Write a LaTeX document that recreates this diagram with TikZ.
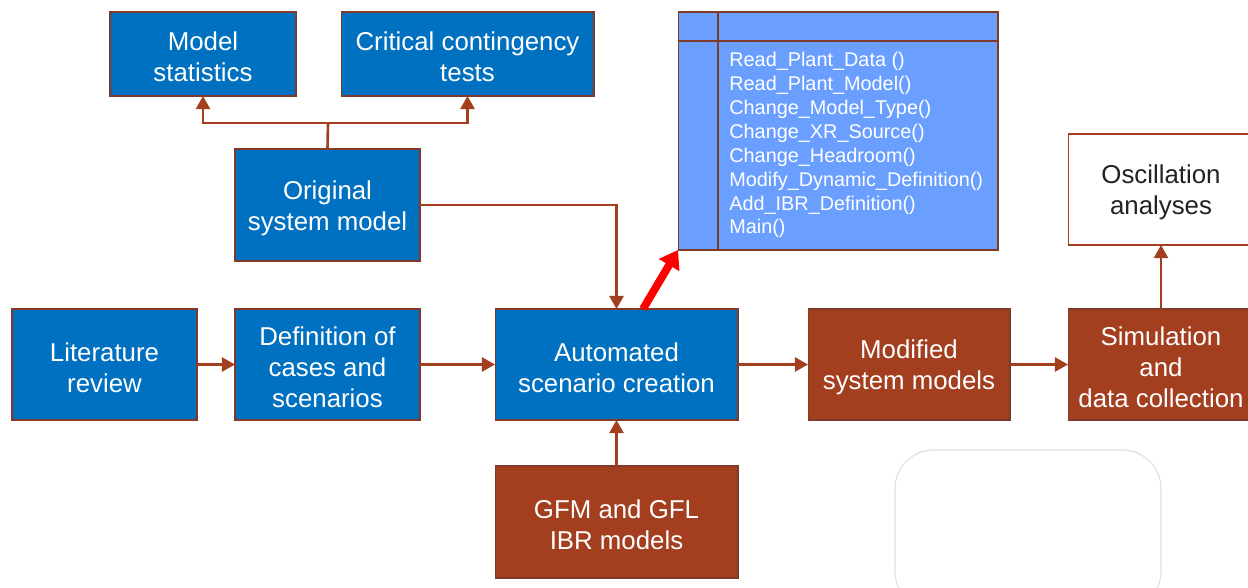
\documentclass[tikz,border=0pt]{standalone}
\usepackage{fontspec}
\setmainfont{Liberation Sans}
\usetikzlibrary{arrows.meta,calc}
\definecolor{cblue}{HTML}{0070C0}
\definecolor{cbrown}{HTML}{A33E1E}
\definecolor{cedge}{HTML}{7F3A2A}
\definecolor{cclass}{HTML}{6A9EFF}
\definecolor{cdark}{HTML}{222222}
\newcommand{\tup}{\rule{0pt}{14pt}}
\tikzset{
  box/.style={draw=cedge, line width=0.6pt, inner sep=0pt, outer sep=0pt, align=center,
    font=\fontsize{14.7}{17.6}\selectfont},
  bluebox/.style={box, fill=cblue, text=white},
  brownbox/.style={box, fill=cbrown, text=white},
  whitebox/.style={box, fill=white, text=cdark},
  arr/.style={draw=cbrown, line width=1.5pt, -{Triangle[width=8pt,length=7.5pt]}},
  ln/.style={draw=cbrown, line width=1.5pt},
  redarr/.style={draw=red, line width=4.5pt, -{Triangle[width=13pt,length=10pt]}},
}
\begin{document}
\begin{tikzpicture}[x=0.02cm,y=-0.02cm]
\useasboundingbox (0,0) rectangle (1248,588);
% boxes
\node[bluebox, minimum width=3.72cm, minimum height=1.68cm] (ms) at (203,54) {\tup Model\\statistics};
\node[bluebox, minimum width=5.06cm, minimum height=1.68cm] (cc) at (467.5,54) {\tup Critical contingency\\tests};
\node[bluebox, minimum width=3.7cm, minimum height=2.24cm] (orig) at (327.5,205) {\tup Original\\system model};
\node[bluebox, minimum width=3.7cm, minimum height=2.22cm] (lit) at (104.5,364.5) {\tup Literature\\review};
\node[bluebox, minimum width=3.7cm, minimum height=2.22cm] (def) at (327.5,364.5) {\tup Definition of\\cases and\\scenarios};
\node[bluebox, minimum width=4.86cm, minimum height=2.22cm] (auto) at (616.5,364.5) {\tup Automated\\scenario creation};
\node[brownbox, minimum width=4.86cm, minimum height=2.24cm] (gfm) at (616.5,522) {\tup GFM and GFL\\IBR models};
\node[brownbox, minimum width=4.04cm, minimum height=2.22cm] (mod) at (909,364.5) {\tup Modified\\system models};
\node[brownbox, minimum width=3.72cm, minimum height=2.22cm] (sim) at (1161,364.5) {\tup Simulation\\and\\data collection};
\node[whitebox, draw=cbrown, minimum width=3.72cm, minimum height=2.22cm] (osc) at (1161,189.5) {\tup Oscillation\\analyses};
% class box
\node[draw=cedge, line width=0.6pt, fill=cclass, inner sep=0pt, outer sep=0pt,
  minimum width=6.4cm, minimum height=4.76cm] (cls) at (838,131) {};
\draw[cedge, line width=0.6pt] (678,41) -- (998,41);
\draw[cedge, line width=0.6pt] (718,12) -- (718,250);
\node[anchor=north west, inner sep=0pt, align=left, text=white,
  font=\fontsize{11.3}{13.6}\selectfont] (meth) at (729,52)
  {Read\_Plant\_Data ()\\Read\_Plant\_Model()\\Change\_Model\_Type()\\Change\_XR\_Source()\\Change\_Headroom()\\Modify\_Dynamic\_Definition()\\Add\_IBR\_Definition()\\Main()};
% empty rounded box
\draw[draw=black!13, line width=0.6pt, rounded corners=22pt] (895,450) rectangle (1161,610);
% connectors
\coordinate (split) at (328,123);
\draw[ln] (orig.north) -- (split);
\draw[arr] (split) -| (ms.south);
\draw[arr] (split) -| (cc.south);
\draw[arr] (orig.east) -| (auto.north);
\draw[arr] (lit) -- (def);
\draw[arr] (def) -- (auto);
\draw[arr] (auto) -- (mod);
\draw[arr] (mod) -- (sim);
\draw[arr] (sim.north) -- (osc.south);
\draw[arr] (gfm) -- (auto);
\coordinate (rs) at (643,309);
\draw[redarr] (rs) -- (cls.south west);
\end{tikzpicture}
\end{document}
